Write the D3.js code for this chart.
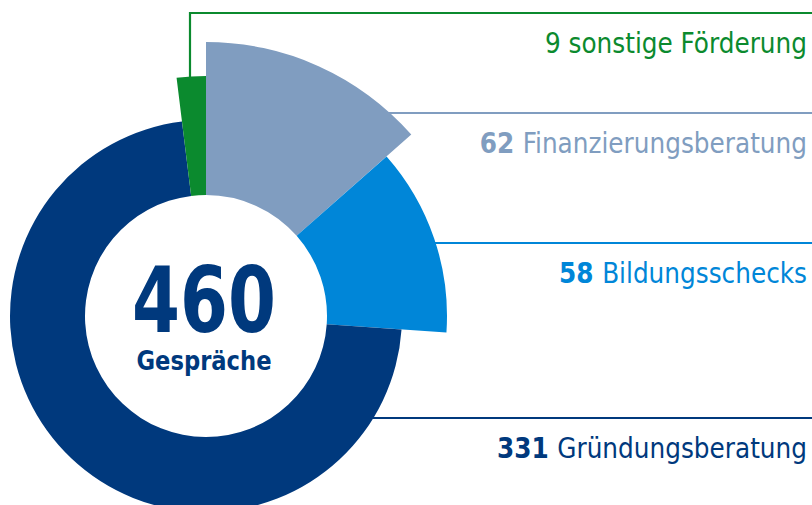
<!DOCTYPE html>
<html>
<head>
<meta charset="utf-8">
<script src="https://cdn.jsdelivr.net/npm/d3@7"></script>
<style>
  body { margin: 0; background: #fff; }
  svg { display: block; font-family: "DejaVu Sans Condensed", "Liberation Sans Narrow", sans-serif; }
</style>
</head>
<body>
<div id="chart"></div>
<script>
// chart data
const categories = ["Finanzierungsberatung", "Bildungsschecks", "Gründungsberatung", "sonstige Förderung"];
const values = [62, 58, 331, 9];
const total = 460;
const centerLabel = "Gespräche";

// styling per slice
const colors = ["#809dc0", "#0086d8", "#00397d", "#0b8a2e"];
const outerRadii = [274, 241, 196, 240];
const labelLineY = [113, 243, 418, 13];
const boldNumber = [true, true, true, false];

const width = 812, height = 505;
const cx = 206, cy = 316;
const innerRadius = 121;

const svg = d3.select("#chart")
  .append("svg")
  .attr("width", width)
  .attr("height", height);

const slices = categories.map((c, i) => ({
  name: c, value: values[i], color: colors[i], r: outerRadii[i],
  lineY: labelLineY[i], bold: boldNumber[i]
}));

const pie = d3.pie().sort(null).value(d => d.value);
const arcs = pie(slices);

// leader lines first, so slices sit on top
arcs.forEach(a => {
  const d = a.data;
  let path;
  if (d.lineY < cy - d.r) {
    // line goes up from the slice top, then right
    const mid = (a.startAngle + a.endAngle) / 2;
    const x0 = Math.round(cx + d.r * Math.sin(mid)) - 1;
    const y0 = cy - d.r * Math.cos(mid);
    path = `M${x0},${y0 + 4}V${d.lineY}H${width}`;
  } else {
    const dy = d.lineY - cy;
    const x0 = cx + Math.sqrt(d.r * d.r - dy * dy) - 4;
    path = `M${x0},${d.lineY}H${width}`;
  }
  svg.append("path")
    .attr("d", path)
    .attr("fill", "none")
    .attr("stroke", d.color)
    .attr("stroke-width", 2.2);
});

const g = svg.append("g").attr("transform", `translate(${cx},${cy})`);

g.selectAll("path.slice")
  .data(arcs)
  .join("path")
  .attr("class", "slice")
  .attr("fill", d => d.data.color)
  .attr("d", d => d3.arc().innerRadius(innerRadius).outerRadius(d.data.r)(d));

// center text
g.append("text")
  .attr("x", -2)
  .attr("y", 16)
  .attr("text-anchor", "middle")
  .attr("fill", colors[2])
  .style("font-size", "90px")
  .style("font-weight", "bold")
  .attr("textLength", 144)
  .attr("lengthAdjust", "spacingAndGlyphs")
  .text(total);

g.append("text")
  .attr("x", -2)
  .attr("y", 54)
  .attr("text-anchor", "middle")
  .attr("fill", colors[2])
  .style("font-size", "27px")
  .style("font-weight", "bold")
  .attr("textLength", 135)
  .attr("lengthAdjust", "spacingAndGlyphs")
  .text(centerLabel);

// labels on the right, squeezed a little to match the narrow original type
arcs.forEach(a => {
  const d = a.data;
  const t = svg.append("g")
    .attr("transform", `translate(807,${d.lineY + 40}) scale(0.95,1)`)
    .append("text")
    .attr("text-anchor", "end")
    .attr("fill", d.color)
    .style("font-size", "29px");
  t.append("tspan")
    .style("font-weight", d.bold ? "bold" : "normal")
    .text(d.value + " ");
  t.append("tspan").text(d.name);
});
</script>
</body>
</html>
